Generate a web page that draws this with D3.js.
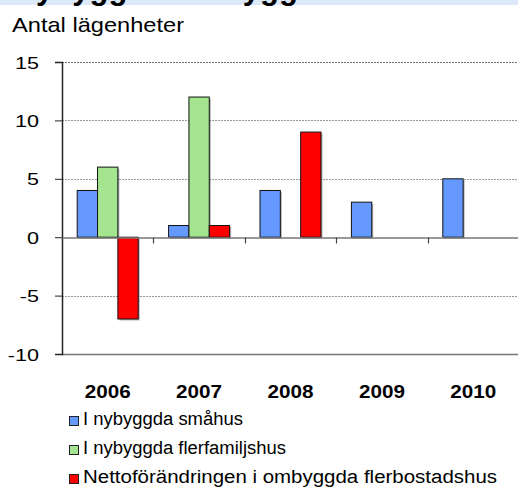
<!DOCTYPE html>
<html><head><meta charset="utf-8">
<script src="https://cdn.jsdelivr.net/npm/d3@7"></script>
<style>body{margin:0;background:#fff}svg{display:block}text{font-family:"Liberation Sans",Arial,sans-serif}</style>
</head><body>
<script>
const title = "Nybyggt & ombyggt";
const yLabel = "Antal lägenheter";
const years = ["2006","2007","2008","2009","2010"];
const seriesNames = ["I nybyggda småhus","I nybyggda flerfamiljshus","Nettoförändringen i ombyggda flerbostadshus"];
const smahus = [4,1,4,3,5];
const flerfamiljshus = [6,12,null,null,null];
const ombyggda = [-7,1,9,null,null];
const colors = ["#6699ff","#a6e590","#ff0000"];
const yTicks = [-10,-5,0,5,10,15];

(function(){
const W=518,H=488;
const svg=d3.select("body").append("svg").attr("width",W).attr("height",H);
svg.append("rect").attr("x",0).attr("y",0).attr("width",W).attr("height",5).attr("fill","#dde9f8");
svg.append("text").attr("x",13.7).attr("y",-1.5).attr("font-size",31).attr("font-weight","bold").text(title);

svg.append("text").attr("x",12).attr("y",32).attr("font-size",21)
  .attr("textLength",172).attr("lengthAdjust","spacingAndGlyphs").text(yLabel);

const pL=62,pR=519,pT=62,pB=354;
const x=d3.scaleBand().domain(years).range([pL,pR]);
const y=d3.scaleLinear().domain([-10,15]).range([pB,pT]);
const series=[smahus,flerfamiljshus,ombyggda];
const xs=d3.scaleBand().domain([0,1,2]).range([0,61]);

const g=svg.append("g");
yTicks.forEach(t=>{
  if(t===0||t===-10) return;
  g.append("line").attr("x1",pL).attr("x2",W).attr("y1",Math.round(y(t))+0.5).attr("y2",Math.round(y(t))+0.5)
   .attr("stroke",t===15?"#777":"#999").attr("stroke-width",1).attr("stroke-dasharray","2,1");
});
g.append("line").attr("x1",pL).attr("x2",W).attr("y1",Math.round(y(-10))+0.5).attr("y2",Math.round(y(-10))+0.5).attr("stroke","#777").attr("stroke-width",1.5);

const yAxis=d3.axisLeft(y).tickValues(yTicks).tickSize(7).tickFormat(d=>String(d));
const ya=svg.append("g").attr("transform",`translate(${pL},0)`).call(yAxis);
ya.select(".domain").attr("stroke","#222").attr("stroke-width",1.5);
ya.selectAll(".tick line").attr("stroke","#222");
ya.selectAll(".tick text").attr("font-size",17).attr("fill","#000").attr("font-family","Liberation Sans, Arial, sans-serif")
  .attr("x",0).attr("dy","0.36em").attr("transform","translate(-23,0) scale(1.27,1)");

series.forEach((s,si)=>{
  years.forEach((yr,i)=>{
    const v=s[i]; if(v==null) return;
    const bx=x(yr)+(x.bandwidth()-61)/2+xs(si);
    const y0=y(Math.max(0,v)), h=Math.abs(y(v)-y(0));
    svg.append("rect").attr("x",bx+1.5).attr("y",y0+1.5).attr("width",xs.bandwidth()).attr("height",h).attr("fill","#000").attr("opacity",0.3);
    svg.append("rect").attr("x",bx).attr("y",y0).attr("width",xs.bandwidth()).attr("height",h)
      .attr("fill",colors[si]).attr("stroke","#111").attr("stroke-width",1);
  });
});

const xAxis=d3.axisBottom(x).tickSize(0).tickFormat("");
const xa=svg.append("g").attr("transform",`translate(0,${Math.round(y(0))+0.5})`).call(xAxis);
xa.select(".domain").attr("stroke","#777").attr("stroke-width",1.5);
x.domain().slice(1).forEach(d=>{
  xa.append("line").attr("x1",Math.round(x(d))+0.5).attr("x2",Math.round(x(d))+0.5).attr("y1",0).attr("y2",6).attr("stroke","#444").attr("stroke-width",1.2);
});

years.forEach(yr=>{
  const cx=x(yr)+x.bandwidth()/2;
  svg.append("text").attr("x",cx-23).attr("y",398)
    .attr("font-size",18).attr("font-weight","bold").attr("textLength",46).attr("lengthAdjust","spacingAndGlyphs").text(yr);
});

const lTop=[416,445,474], lLen=[160,203,414];
seriesNames.forEach((n,i)=>{
  svg.append("rect").attr("x",69.5).attr("y",lTop[i]+0.5).attr("width",9).attr("height",9).attr("fill",colors[i]).attr("stroke","#222").attr("stroke-width",1);
  svg.append("text").attr("x",83).attr("y",lTop[i]+9).attr("font-size",18)
    .attr("textLength",lLen[i]).attr("lengthAdjust","spacingAndGlyphs").text(n);
});
})();
</script>
</body></html>
